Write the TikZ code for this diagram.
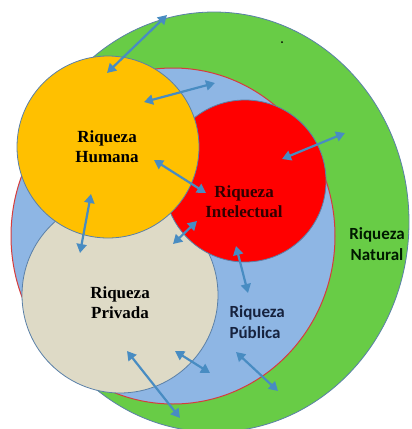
\documentclass[tikz,border=0pt]{standalone}
\usepackage{fontspec}
\setmainfont{Liberation Serif}
\newfontfamily\carlito{Carlito}
\usetikzlibrary{arrows.meta}
\definecolor{natgreen}{RGB}{104,204,70}
\definecolor{pubblue}{RGB}{142,182,228}
\definecolor{humyellow}{RGB}{255,192,0}
\definecolor{intred}{RGB}{255,0,0}
\definecolor{privbeige}{RGB}{222,218,198}
\definecolor{edgeblue}{RGB}{90,128,168}
\definecolor{rimred}{RGB}{214,60,60}
\definecolor{arrowblue}{RGB}{72,140,194}
\definecolor{pubtext}{RGB}{22,34,62}
\definecolor{inttext}{RGB}{50,0,0}
\tikzset{
  zone/.style={draw=edgeblue, line width=0.8pt},
  serlabel/.style={align=center, font=\bfseries\fontsize{17}{20}\selectfont},
  sanslabel/.style={font=\carlito\bfseries\fontsize{17}{21}\selectfont},
  link/.style={draw=arrowblue, line width=2.2pt, {Triangle[length=9pt,width=10pt]}-{Triangle[length=9pt,width=10pt]}}
}
\begin{document}
\begin{tikzpicture}[x=1pt,y=-1pt]
\useasboundingbox (0,0) rectangle (412,429);
% circles
\path[zone, fill=natgreen] (214,222) ellipse [x radius=195, y radius=210];
\path[fill=pubblue, draw=rimred, line width=1pt] (173,236) ellipse [x radius=162, y radius=168];
\path[zone, fill=privbeige] (120,295) circle [radius=98];
\path[zone, fill=intred] (245,181) circle [radius=81];
\path[zone, fill=humyellow] (108,147) circle [radius=91];
\fill[black] (282,42) circle [radius=1pt];
% labels
\node[serlabel, text=black] (hum) at (107,147) {Riqueza\\Humana};
\node[serlabel, text=inttext] (int) at (244,202) {Riqueza\\Intelectual};
\node[serlabel, text=black] (priv) at (120,303) {Riqueza\\Privada};
\node[sanslabel, text=pubtext, align=left, anchor=west] (pub) at (226,322) {Riqueza\\Pública};
\node[sanslabel, text=black!90!green, align=center] (nat) at (377,244) {Riqueza\\Natural};
% arrow ends
\coordinate (a1) at (167,15);  \coordinate (b1) at (107,73);
\coordinate (a2) at (215,83);  \coordinate (b2) at (144,102);
\coordinate (a3) at (345,133); \coordinate (b3) at (282,159);
\coordinate (a4) at (154,160); \coordinate (b4) at (206,193);
\coordinate (a5) at (91,194);  \coordinate (b5) at (80,253);
\coordinate (a6) at (197,221); \coordinate (b6) at (173,244);
\coordinate (a7) at (236,246); \coordinate (b7) at (248,293);
\coordinate (a8) at (127,351); \coordinate (b8) at (180,418);
\coordinate (a9) at (175,351); \coordinate (b9) at (210,373);
\coordinate (a10) at (236,352); \coordinate (b10) at (278,391);
\foreach \i in {1,...,10} \draw[link] (a\i) -- (b\i);
\end{tikzpicture}
\end{document}
